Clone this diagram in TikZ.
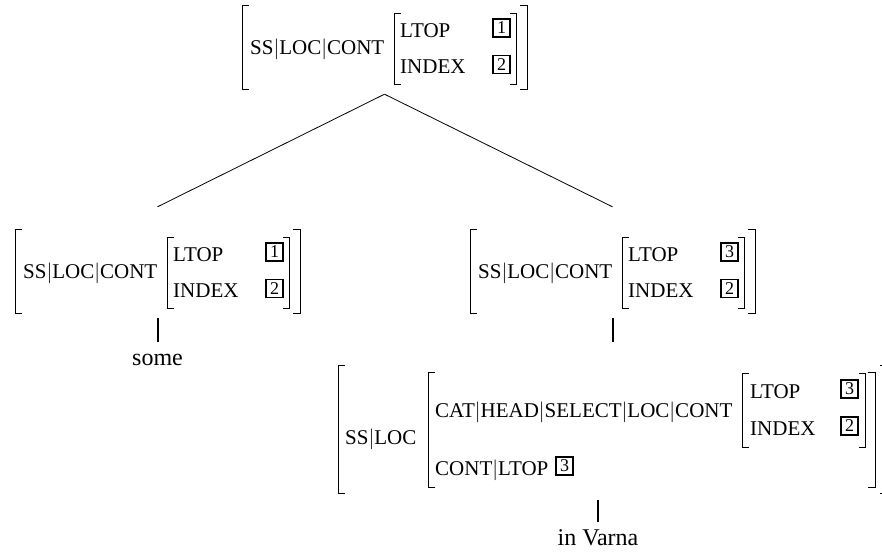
\documentclass[tikz,border=0pt]{standalone}
\usepackage{fontspec}
\setmainfont{Liberation Serif}
\begin{document}
\begin{tikzpicture}
[x=1pt, y=-1pt,
 brk/.style={line width=0.9pt},
 feat/.style={anchor=base west, inner sep=0pt, font=\fontsize{21}{25}\selectfont},
 tagbox/.style={draw, line width=1.6pt, inner sep=0pt, minimum width=17pt, minimum height=18pt, font=\fontsize{18}{18}\selectfont},
 avm/.style={inner sep=0pt, minimum width=285pt, minimum height=111pt},
 leaf/.style={anchor=base, inner sep=0pt, text height=22.5pt, text depth=0pt, font=\fontsize{24}{28}\selectfont},
 branch/.style={line width=0.8pt},
 stem/.style={line width=2pt},
]
\useasboundingbox (0,0) rectangle (882,555);
\clip (0,0) rectangle (882,555);

%mother
\begin{scope}[shift={(227,-224)}]
\node[avm] (root) at (157.5,262.5) {};
\draw[brk] (22,229) -- (15,229) -- (15,313) -- (22,313);
\draw[brk] (293,229) -- (300,229) -- (300,313) -- (293,313);
\node[feat] at (23,278) {SS$|$LOC$|$CONT};
\draw[brk] (174,237) -- (167,237) -- (167,308) -- (174,308);
\draw[brk] (283,237) -- (289,237) -- (289,308) -- (283,308);
\node[feat] at (173,261.5) {LTOP};
\node[feat] at (173,297) {INDEX};
\node[tagbox] at (274.5,252) {1};
\node[tagbox] at (274.5,288.5) {2};
\end{scope}

%non-head daughter
\node[avm] (dtrA) at (157.5,262.5) {};
\draw[brk] (22,229) -- (15,229) -- (15,313) -- (22,313);
\draw[brk] (293,229) -- (300,229) -- (300,313) -- (293,313);
\node[feat] at (23,278) {SS$|$LOC$|$CONT};
\draw[brk] (174,237) -- (167,237) -- (167,308) -- (174,308);
\draw[brk] (283,237) -- (289,237) -- (289,308) -- (283,308);
\node[feat] at (173,261.5) {LTOP};
\node[feat] at (173,297) {INDEX};
\node[tagbox] at (274.5,252) {1};
\node[tagbox] at (274.5,288.5) {2};

%head daughter
\begin{scope}[shift={(455,0)}]
\node[avm] (dtrB) at (157.5,262.5) {};
\draw[brk] (22,229) -- (15,229) -- (15,313) -- (22,313);
\draw[brk] (293,229) -- (300,229) -- (300,313) -- (293,313);
\node[feat] at (23,278) {SS$|$LOC$|$CONT};
\draw[brk] (174,237) -- (167,237) -- (167,308) -- (174,308);
\draw[brk] (283,237) -- (289,237) -- (289,308) -- (283,308);
\node[feat] at (173,261.5) {LTOP};
\node[feat] at (173,297) {INDEX};
\node[tagbox] at (274.5,252) {3};
\node[tagbox] at (274.5,288.5) {2};
\end{scope}

%PP
\node[avm, minimum width=549pt, minimum height=158pt] (prep) at (612.5,421) {};
\draw[brk] (345,365) -- (338,365) -- (338,493) -- (345,493);
\draw[brk] (880,365) -- (887,365) -- (887,493) -- (880,493);
\node[feat] at (345,444) {SS$|$LOC};
\draw[brk] (435,372) -- (428,372) -- (428,487) -- (435,487);
\draw[brk] (868,372) -- (875,372) -- (875,487) -- (868,487);
\node[feat] at (435,417) {CAT$|$HEAD$|$SELECT$|$LOC$|$CONT};
\draw[brk] (749,373) -- (742,373) -- (742,447) -- (749,447);
\draw[brk] (859,373) -- (865,373) -- (865,447) -- (859,447);
\node[feat] at (750,398) {LTOP};
\node[feat] at (750,435) {INDEX};
\node[tagbox] at (849.5,389) {3};
\node[tagbox] at (849.5,426) {2};
\node[feat] at (435,475) {CONT$|$LTOP};
\node[tagbox] at (564.5,466) {3};

%words
\node[leaf] (some) at (157.5,365) {some};
\node[leaf] (varna) at (598,545) {in Varna};

%branches
\draw[branch] (root.south) -- (dtrA.north);
\draw[branch] (root.south) -- (dtrB.north);
\draw[stem] (dtrA.south) -- (some.north);
\draw[stem] (dtrB.south) -- (prep.north);
\draw[stem] (varna.north) -- (varna.north |- prep.south);

\end{tikzpicture}
\end{document}
